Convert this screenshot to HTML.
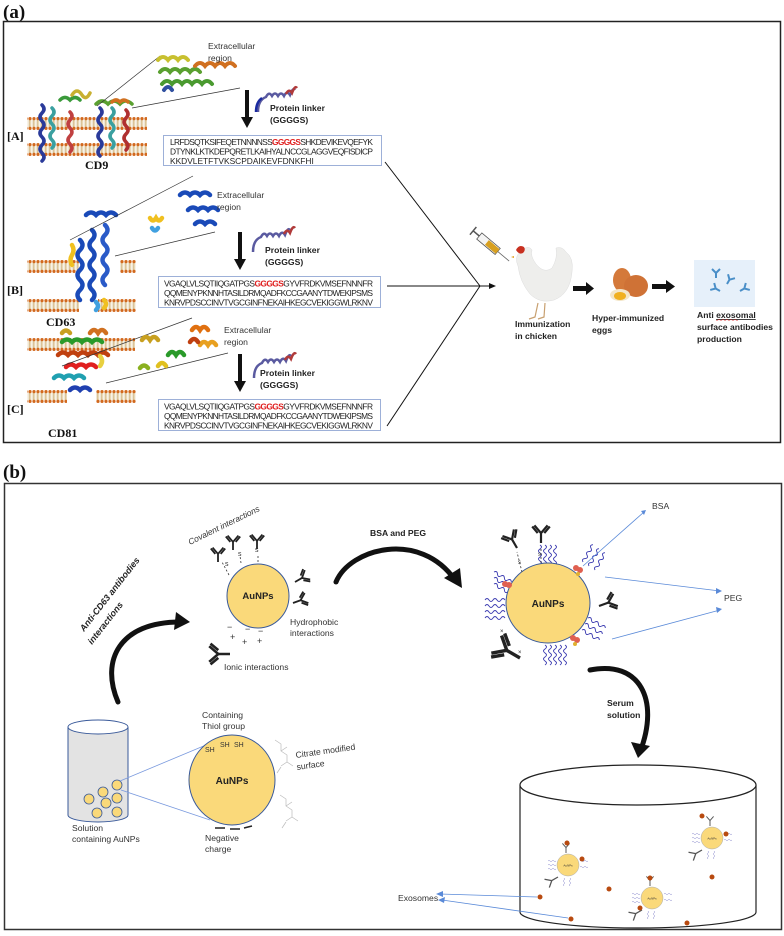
<!DOCTYPE html>
<html><head><meta charset="utf-8"><style>
html,body{margin:0;padding:0;background:#fff}
svg{display:block}
text{font-family:"Liberation Sans",sans-serif}
.sq{font-size:8.4px;fill:#222}
.lbl{font-size:8.6px;fill:#333}
.bl{font-size:8.6px;font-weight:bold;fill:#222}
.ser{font-family:"Liberation Serif",serif;font-weight:bold;fill:#111}
</style></head><body>
<svg width="784" height="936" viewBox="0 0 784 936" xmlns="http://www.w3.org/2000/svg">
<defs>
<pattern id="lip" width="4" height="13" patternUnits="userSpaceOnUse">
<line x1="1.2" y1="2" x2="1.2" y2="11" stroke="#c9a96b" stroke-width="1"/>
<line x1="2.8" y1="2" x2="2.8" y2="11" stroke="#d8bd85" stroke-width="0.8"/>
<circle cx="2" cy="1.6" r="1.6" fill="#d2691e"/>
<circle cx="2" cy="11.4" r="1.6" fill="#d2691e"/>
</pattern>
<g id="ab">
<path d="M0 0 L0 -9 M0 -9 L-6 -16 M0 -9 L6 -16 M-3 -9 L-8 -15 M3 -9 L8 -15" stroke="#222" stroke-width="2" fill="none"/>
</g>
<g id="abg">
<path d="M0 0 L0 -9 M0 -9 L-6 -16 M0 -9 L6 -16" stroke="#555" stroke-width="1.6" fill="none"/>
</g>
<g id="abb">
<path d="M0 0 L0 -5 M0 -5 L-4 -9 M0 -5 L4 -9" stroke="#4a8fc8" stroke-width="2" fill="none"/>
</g>
<path id="wv" d="M0 0 q2 -3 4 0 t4 0 t4 0 t4 0 t4 0" fill="none" stroke="#3a3ab0" stroke-width="0.9"/>
<path id="wvs" d="M0 0 q1 -1.5 2 0 t2 0 t2 0 t2 0" fill="none" stroke="#8888cc" stroke-width="0.5"/>
</defs>

<!-- ================= (a) ================= -->
<text x="3" y="18" class="ser" font-size="19">(a)</text>
<rect x="3.5" y="21.5" width="777" height="421" fill="none" stroke="#222" stroke-width="1.5"/>

<rect x="27" y="117" width="120" height="13" fill="url(#lip)"/>
<rect x="27" y="143" width="120" height="13" fill="url(#lip)"/>
<g fill="none" stroke-width="3.5" stroke-linecap="round">
<path d="M42 105 q4 4 0 8 q-4 4 0 8 q4 4 0 8 q-4 4 0 8 q4 4 0 8 q-4 4 0 8 q4 4 0 8" stroke="#2a3a9a"/>
<path d="M52 108 q4 4 0 8 q-4 4 0 8 q4 4 0 8 q-4 4 0 8 q4 4 0 8" stroke="#3aa0a0"/>
<path d="M70 112 q4 4 0 8 q-4 4 0 8 q4 4 0 8 q-4 4 0 8 q4 4 0 8" stroke="#c04040"/>
<path d="M60 100 q5 -5 10 0 q5 -5 10 0" stroke="#3a9a3a"/>
<path d="M72 95 q5 -8 10 0 q4 6 8 -2" stroke="#c8b030"/>
<path d="M100 108 q4 4 0 8 q-4 4 0 8 q4 4 0 8 q-4 4 0 8 q4 4 0 8 q-4 4 0 8" stroke="#2a3a9a"/>
<path d="M112 108 q4 4 0 8 q-4 4 0 8 q4 4 0 8 q-4 4 0 8 q4 4 0 8" stroke="#3aa0a0"/>
<path d="M126 110 q4 4 0 8 q-4 4 0 8 q4 4 0 8 q-4 4 0 8 q4 4 0 8" stroke="#b03030"/>
<path d="M96 104 q6 -6 12 0 q6 -6 12 0 q6 -6 12 0" stroke="#5aa030"/>
<path d="M112 102 q4 -4 8 0 q4 -4 8 0" stroke="#d07020"/>
</g>
<text x="85" y="169" class="ser" font-size="12">CD9</text>
<text x="7" y="140" class="ser" font-size="12">[A]</text>
<line x1="97" y1="106" x2="160" y2="56" stroke="#333" stroke-width="0.7"/>
<line x1="132" y1="108" x2="240" y2="88" stroke="#333" stroke-width="0.7"/>
<g fill="none" stroke-width="4" stroke-linecap="round">
<path d="M158 60 q5 -6 10 0 q5 -6 10 0 q5 -6 10 0" stroke="#c8c030"/>
<path d="M160 72 q5 -6 10 0 q5 -6 10 0 q5 -6 10 0 q5 -6 10 0" stroke="#5aa030"/>
<path d="M195 66 q5 -6 10 0 q5 -6 10 0 q5 -6 10 0 q5 -6 10 0" stroke="#d07020"/>
<path d="M162 84 q5 -6 10 0 q5 -6 10 0 q5 -6 10 0 q5 -6 10 0 q5 -6 10 0" stroke="#4a9a30"/>
<path d="M164 90 q4 -6 8 0" stroke="#3050a0"/>
</g>
<text x="208" y="49" class="lbl">Extracellular</text>
<text x="208" y="61" class="lbl">region</text>
<rect x="245" y="90" width="4" height="28" fill="#111"/>
<polygon points="241,117 253,117 247,128" fill="#111"/>
<path d="M258 112 q0 -12 8 -15 q3 -6 6 -1 q3 -5 6 0 q3 -5 6 0 q3 -6 6 -1 q3 -8 5 -5" fill="none" stroke="#5a5aa0" stroke-width="2.5"/>
<path d="M256 112 q0 -10 6 -14" stroke="#1a2aa0" stroke-width="2.5" fill="none"/>
<path d="M286 94 q3 -6 6 -1 q3 -8 5 -5" stroke="#b03a3a" stroke-width="2.5" fill="none"/>
<text x="270" y="111" class="bl">Protein linker</text>
<text x="270" y="123" class="bl">(GGGGS)</text>
<rect x="163.5" y="135.5" width="218" height="30" fill="#fff" stroke="#9db0d8" stroke-width="1"/>
<text x="170" y="145" class="sq" textLength="203">LRFDSQTKSIFEQETNNNNSS<tspan fill="#e02020" font-weight="bold">GGGGS</tspan>SHKDEVIKEVQEFYK</text>
<text x="170" y="154.5" class="sq" textLength="203">DTYNKLKTKDEPQRETLKAIHYALNCCGLAGGVEQFISDICP</text>
<text x="170" y="164" class="sq">KKDVLETFTVKSCPDAIKEVFDNKFHI</text>

<!-- B -->
<rect x="27" y="260" width="52" height="13" fill="url(#lip)"/>
<rect x="120" y="260" width="16" height="13" fill="url(#lip)"/>
<rect x="27" y="299" width="52" height="13" fill="url(#lip)"/>
<rect x="98" y="299" width="38" height="13" fill="url(#lip)"/>
<g fill="none" stroke-width="4.5" stroke-linecap="round">
<path d="M80 240 q5 5 0 10 q-5 5 0 10 q5 5 0 10 q-5 5 0 10 q5 5 0 10 q-5 5 0 10" stroke="#1a4ab8"/>
<path d="M92 230 q5 5 0 10 q-5 5 0 10 q5 5 0 10 q-5 5 0 10 q5 5 0 10 q-5 5 0 10 q5 5 0 10" stroke="#1a4ab8"/>
<path d="M105 225 q5 5 0 10 q-5 5 0 10 q5 5 0 10 q-5 5 0 10 q5 5 0 10 q-5 5 0 10" stroke="#2a5ac8"/>
<path d="M86 215 q5 -5 10 0 q5 -5 10 0 q5 -5 10 0" stroke="#1a4ab8"/>
<path d="M72 245 q3 5 0 10 q-3 5 0 10" stroke="#f0c020"/>
<path d="M96 302 q4 4 0 8" stroke="#40a0e0"/>
<path d="M104 300 q4 4 0 8" stroke="#f0c020"/>
</g>
<text x="46" y="326" class="ser" font-size="12">CD63</text>
<text x="7" y="294" class="ser" font-size="12">[B]</text>
<line x1="70" y1="240" x2="193" y2="176" stroke="#333" stroke-width="0.7"/>
<line x1="115" y1="256" x2="215" y2="232" stroke="#333" stroke-width="0.7"/>
<g fill="none" stroke-width="4.5" stroke-linecap="round">
<path d="M180 195 q5 -5 10 0 q5 -5 10 0 q5 -5 10 0" stroke="#1a4ab8"/>
<path d="M188 210 q5 -5 10 0 q5 -5 10 0 q5 -5 10 0" stroke="#1a4ab8"/>
<path d="M195 224 q5 -5 10 0 q5 -5 10 0" stroke="#1a4ab8"/>
<path d="M150 218 q3 5 6 0 q3 5 6 0" stroke="#f0c020"/>
<path d="M152 228 q3 5 6 0" stroke="#40a0e0"/>
</g>
<text x="217" y="198" class="lbl">Extracellular</text>
<text x="217" y="210" class="lbl">region</text>
<rect x="238" y="232" width="4" height="28" fill="#111"/>
<polygon points="234,259 246,259 240,270" fill="#111"/>
<path d="M253 252 q0 -12 8 -15 q3 -6 6 -1 q3 -5 6 0 q3 -5 6 0 q3 -6 6 -1 q3 -8 5 -5" fill="none" stroke="#5a5aa0" stroke-width="2.5"/>
<path d="M284 234 q3 -6 6 -1 q3 -8 5 -5" stroke="#b03a3a" stroke-width="2.5" fill="none"/>
<text x="265" y="253" class="bl">Protein linker</text>
<text x="265" y="265" class="bl">(GGGGS)</text>
<rect x="158.5" y="276.5" width="222" height="31" fill="#fff" stroke="#9db0d8" stroke-width="1"/>
<text x="164" y="286.5" class="sq" textLength="209">VGAQLVLSQTIIQGATPGS<tspan fill="#e02020" font-weight="bold">GGGGS</tspan>GYVFRDKVMSEFNNNFR</text>
<text x="164" y="296" class="sq" textLength="209">QQMENYPKNNHTASILDRMQADFKCCGAANYTDWEKIPSMS</text>
<text x="164" y="305.5" class="sq" textLength="209">KNRVPDSCCINVTVGCGINFNEKAIHKEGCVEKIGGWLRKNV</text>

<!-- C -->
<rect x="27" y="338" width="108" height="13" fill="url(#lip)"/>
<rect x="27" y="390" width="40" height="13" fill="url(#lip)"/>
<rect x="96" y="390" width="40" height="13" fill="url(#lip)"/>
<g fill="none" stroke-width="4.5" stroke-linecap="round">
<path d="M62 342 q5 -5 10 0 q5 -5 10 0 q5 -5 10 0 q5 -5 10 0" stroke="#2a9a2a"/>
<path d="M58 355 q5 -5 10 0 q5 -5 10 0 q5 -5 10 0 q5 -5 10 0 q5 -5 10 0" stroke="#c04010"/>
<path d="M66 367 q5 -5 10 0 q5 -5 10 0 q5 -5 10 0" stroke="#e02020"/>
<path d="M54 378 q5 -5 10 0 q5 -5 10 0 q5 -5 10 0" stroke="#20a0b0"/>
<path d="M70 390 q5 -5 10 0 q5 -5 10 0" stroke="#2040b0"/>
<path d="M62 333 q4 -5 8 0" stroke="#c8a020"/>
<path d="M90 333 q4 -6 8 0 q4 -6 8 0" stroke="#d07020"/>
<path d="M100 356 q4 5 0 10" stroke="#e8d040"/>
</g>
<text x="48" y="437" class="ser" font-size="12">CD81</text>
<text x="7" y="413" class="ser" font-size="12">[C]</text>
<line x1="62" y1="366" x2="192" y2="318" stroke="#333" stroke-width="0.7"/>
<line x1="106" y1="383" x2="228" y2="353" stroke="#333" stroke-width="0.7"/>
<g fill="none" stroke-width="4.5" stroke-linecap="round">
<path d="M142 340 q4 -6 8 0 q4 -6 8 0" stroke="#c8a020"/>
<path d="M140 368 q4 -5 8 0" stroke="#8ab020"/>
<path d="M168 355 q4 -6 8 0 q4 -6 8 0" stroke="#2a9a2a"/>
<path d="M158 366 q4 -6 8 0" stroke="#e0c020"/>
<path d="M192 330 q4 -6 8 0 q4 -6 8 0" stroke="#e07010"/>
<path d="M200 345 q4 -6 8 0 q4 -6 8 0" stroke="#e8a020"/>
<path d="M190 342 q4 -6 8 0" stroke="#c04010"/>
</g>
<text x="224" y="333" class="lbl">Extracellular</text>
<text x="224" y="345" class="lbl">region</text>
<rect x="238" y="354" width="4" height="28" fill="#111"/>
<polygon points="234,381 246,381 240,392" fill="#111"/>
<path d="M254 378 q0 -12 8 -15 q3 -6 6 -1 q3 -5 6 0 q3 -5 6 0 q3 -6 6 -1 q3 -8 5 -5" fill="none" stroke="#5a5aa0" stroke-width="2.5"/>
<path d="M285 360 q3 -6 6 -1 q3 -8 5 -5" stroke="#b03a3a" stroke-width="2.5" fill="none"/>
<text x="260" y="376" class="bl">Protein linker</text>
<text x="260" y="388" class="bl">(GGGGS)</text>
<rect x="158.5" y="399.5" width="222" height="31" fill="#fff" stroke="#9db0d8" stroke-width="1"/>
<text x="164" y="409.5" class="sq" textLength="209">VGAQLVLSQTIIQGATPGS<tspan fill="#e02020" font-weight="bold">GGGGS</tspan>GYVFRDKVMSEFNNNFR</text>
<text x="164" y="419" class="sq" textLength="209">QQMENYPKNNHTASILDRMQADFKCCGAANYTDWEKIPSMS</text>
<text x="164" y="428.5" class="sq" textLength="209">KNRVPDSCCINVTVGCGINFNEKAIHKEGCVEKIGGWLRKNV</text>

<line x1="385" y1="162" x2="480" y2="286" stroke="#111" stroke-width="1"/>
<line x1="387" y1="286" x2="490" y2="286" stroke="#111" stroke-width="1"/>
<line x1="387" y1="426" x2="480" y2="286" stroke="#111" stroke-width="1"/>
<polygon points="489,283 496,286 489,289" fill="#111"/>

<g transform="translate(490,245) rotate(40)">
<rect x="-14" y="-4" width="24" height="8" fill="#f4f4f4" stroke="#555" stroke-width="0.8"/>
<rect x="-4" y="-3" width="14" height="6" fill="#d8a020"/>
<line x1="-14" y1="0" x2="-22" y2="0" stroke="#555" stroke-width="1.5"/>
<line x1="-22" y1="-5" x2="-22" y2="5" stroke="#555" stroke-width="1.5"/>
<line x1="10" y1="0" x2="25" y2="0" stroke="#666" stroke-width="0.8"/>
</g>
<path d="M520 252 q-6 5 -2 14 q2 16 12 28 q10 10 24 6 q16 -6 18 -28 q2 -14 -6 -20 q-4 -6 -10 -4 q2 10 -4 20 q-8 6 -16 -4 q-6 -8 -4 -14 q-4 -6 -12 2z" fill="#eeeeec" stroke="#ddd" stroke-width="0.5"/>
<path d="M516 250 q3 -6 8 -3 q2 3 -1 6 q-4 2 -7 -3z" fill="#c83020"/>
<path d="M514 256 l-3 1 l3 1z" fill="#e0a020"/>
<path d="M538 303 l-3 14 l-6 2 M545 303 l-1 14 l-6 2" stroke="#c8a070" stroke-width="1.2" fill="none"/>
<text x="515" y="327" class="bl">Immunization</text>
<text x="515" y="339" class="bl">in chicken</text>
<rect x="573" y="286" width="14" height="5" fill="#111"/>
<polygon points="586,282 594,288.5 586,295" fill="#111"/>
<ellipse cx="622" cy="280" rx="9" ry="12" fill="#d4793a"/>
<ellipse cx="636" cy="286" rx="12" ry="11" fill="#cf7236"/>
<ellipse cx="620" cy="295" rx="10" ry="6" fill="#f3e6c8"/>
<ellipse cx="620" cy="296" rx="6" ry="4" fill="#f0b020"/>
<text x="592" y="321" class="bl">Hyper-immunized</text>
<text x="592" y="333" class="bl">eggs</text>
<rect x="652" y="284" width="15" height="5" fill="#111"/>
<polygon points="666,280 675,286.5 666,293" fill="#111"/>
<rect x="694" y="260" width="61" height="47" fill="#e6f0fa"/>
<use href="#abb" transform="translate(716,278)"/>
<use href="#abb" transform="translate(727,284) rotate(30)"/>
<use href="#abb" transform="translate(720,291) rotate(-60)"/>
<use href="#abb" transform="translate(740,291) rotate(60)"/>
<text x="697" y="318" class="bl">Anti <tspan text-decoration="underline">exosomal</tspan></text>
<path d="M716 320 q1 1 2 0 t2 0 t2 0 t2 0 t2 0 t2 0 t2 0 t2 0 t2 0 t2 0 t2 0" stroke="#e03030" stroke-width="0.5" fill="none"/>
<text x="697" y="330" class="bl">surface  antibodies</text>
<text x="697" y="342" class="bl">production</text>

<!-- ================= (b) ================= -->
<text x="3" y="478" class="ser" font-size="19">(b)</text>
<rect x="4.5" y="483.5" width="777" height="446" fill="none" stroke="#333" stroke-width="1.5"/>

<path d="M118 702 C100 660 120 622 180 622" fill="none" stroke="#111" stroke-width="5" stroke-linecap="round"/>
<polygon points="176,612 190,622 174,630" fill="#111"/>
<text transform="translate(84,632) rotate(-52)" font-size="9" font-weight="bold" font-style="italic" fill="#222">Anti-CD63 antibodies</text>
<text transform="translate(92,645) rotate(-52)" font-size="9" font-weight="bold" font-style="italic" fill="#222">interactions</text>

<ellipse cx="258" cy="596" rx="31" ry="32" fill="#fad97a" stroke="#3a5a9a" stroke-width="1"/>
<text x="258" y="599" text-anchor="middle" font-size="9.5" font-weight="bold" fill="#222">AuNPs</text>
<g stroke="#333" stroke-width="0.8" stroke-dasharray="2,2">
<line x1="229" y1="575" x2="222" y2="562"/><line x1="241" y1="563" x2="240" y2="556"/><line x1="258" y1="562" x2="258" y2="555"/>
</g>
<use href="#ab" transform="translate(218,562) scale(0.9)"/>
<use href="#ab" transform="translate(233,550) scale(0.9)"/>
<use href="#ab" transform="translate(257,549) scale(0.9)"/>
<use href="#ab" transform="translate(295,582) rotate(60) scale(0.9)"/>
<use href="#ab" transform="translate(293,603) rotate(70) scale(0.9)"/>
<use href="#ab" transform="translate(230,654) rotate(-90) scale(1.3)"/>
<text font-size="7" fill="#333"><tspan x="225" y="566">s</tspan><tspan x="238" y="556">s</tspan><tspan x="255" y="552">s</tspan></text>
<text font-size="9" fill="#333"><tspan x="227" y="630">−</tspan><tspan x="245" y="632">−</tspan><tspan x="258" y="634">−</tspan><tspan x="230" y="640">+</tspan><tspan x="242" y="645">+</tspan><tspan x="257" y="644">+</tspan></text>
<text transform="translate(190,545) rotate(-26)" font-size="8.4" font-style="italic" fill="#333">Covalent interactions</text>
<text x="290" y="625" class="lbl">Hydrophobic</text>
<text x="290" y="636" class="lbl">interactions</text>
<text x="224" y="670" class="lbl">Ionic interactions</text>

<path d="M336 582 C350 548 420 530 455 580" fill="none" stroke="#111" stroke-width="5" stroke-linecap="round"/>
<polygon points="444,578 462,588 460,568" fill="#111"/>
<text x="370" y="536" class="bl">BSA and PEG</text>

<g>
<use href="#wv" transform="translate(485,606)"/><use href="#wv" transform="translate(485,612)"/><use href="#wv" transform="translate(485,618)"/><use href="#wv" transform="translate(485,600)"/>
<use href="#wv" transform="translate(494,572) rotate(30)"/><use href="#wv" transform="translate(494,578) rotate(30)"/><use href="#wv" transform="translate(494,584) rotate(30)"/>
<use href="#wv" transform="translate(540,545) rotate(90)"/><use href="#wv" transform="translate(545,545) rotate(90)"/><use href="#wv" transform="translate(550,545) rotate(90)"/><use href="#wv" transform="translate(555,545) rotate(90)"/>
<use href="#wv" transform="translate(583,562) rotate(-60)"/><use href="#wv" transform="translate(589,566) rotate(-60)"/><use href="#wv" transform="translate(595,570) rotate(-60)"/>
<use href="#wv" transform="translate(582,630) rotate(30)"/><use href="#wv" transform="translate(585,624) rotate(30)"/><use href="#wv" transform="translate(588,618) rotate(30)"/>
<use href="#wv" transform="translate(545,645) rotate(90)"/><use href="#wv" transform="translate(550,645) rotate(90)"/><use href="#wv" transform="translate(555,645) rotate(90)"/><use href="#wv" transform="translate(560,645) rotate(90)"/><use href="#wv" transform="translate(565,645) rotate(90)"/>
</g>
<ellipse cx="548" cy="603" rx="42" ry="40" fill="#fad97a" stroke="#3a5a9a" stroke-width="1"/>
<text x="548" y="607" text-anchor="middle" font-size="10" font-weight="bold" fill="#222">AuNPs</text>
<use href="#ab" transform="translate(517,548) rotate(-30) scale(1.1)"/>
<use href="#ab" transform="translate(541,543) scale(1.1)"/>
<use href="#ab" transform="translate(599,606) rotate(70) scale(1.1)"/>
<use href="#ab" transform="translate(520,658) rotate(-60) scale(1.7)"/>
<g stroke="#333" stroke-width="0.8" stroke-dasharray="2,2"><line x1="522" y1="572" x2="517" y2="552"/><line x1="541" y1="563" x2="541" y2="547"/></g>
<text font-size="6" fill="#333"><tspan x="518" y="564">s</tspan><tspan x="538" y="556">s</tspan><tspan x="500" y="633">×</tspan><tspan x="507" y="645">×</tspan><tspan x="518" y="654">×</tspan></text>
<g fill="#e06050"><circle cx="576" cy="568" r="3"/><circle cx="580" cy="570" r="3"/><circle cx="505" cy="584" r="3"/><circle cx="509" cy="585" r="3"/><circle cx="573" cy="638" r="3"/><circle cx="577" cy="640" r="3"/></g>
<g fill="#e0b030"><circle cx="578" cy="574" r="2"/><circle cx="575" cy="644" r="2"/></g>
<g stroke="#5a8ad8" stroke-width="0.8" fill="none">
<line x1="583" y1="566" x2="644" y2="512"/><line x1="605" y1="577" x2="720" y2="591"/><line x1="612" y1="639" x2="720" y2="610"/>
</g>
<g fill="#5a8ad8"><polygon points="646,510 641,511 644,515"/><polygon points="722,591 716,588 716,594"/><polygon points="722,609 716,607 717,613"/></g>
<text x="652" y="509" class="lbl">BSA</text>
<text x="724" y="601" class="lbl">PEG</text>

<path d="M590 670 C640 660 660 700 640 752" fill="none" stroke="#111" stroke-width="5" stroke-linecap="round"/>
<polygon points="631,742 638,758 650,746" fill="#111"/>
<text x="607" y="706" class="bl">Serum</text>
<text x="607" y="718" class="bl">solution</text>

<path d="M68 727 L68 815 A30 7 0 0 0 128 815 L128 727" fill="#e3e3e3" stroke="#3a5a9a" stroke-width="1"/>
<ellipse cx="98" cy="727" rx="30" ry="7" fill="#fff" stroke="#3a5a9a" stroke-width="1"/>
<g fill="#fad97a" stroke="#3a5a9a" stroke-width="0.8">
<circle cx="117" cy="785" r="5"/><circle cx="103" cy="792" r="5"/><circle cx="89" cy="799" r="5"/><circle cx="106" cy="803" r="5"/><circle cx="117" cy="798" r="5"/><circle cx="97" cy="813" r="5"/><circle cx="117" cy="812" r="5"/>
</g>
<g stroke="#7a9ade" stroke-width="0.8"><line x1="120" y1="781" x2="206" y2="745"/><line x1="121" y1="790" x2="210" y2="820"/></g>
<text x="72" y="831" class="lbl">Solution</text>
<text x="72" y="842" class="lbl">containing AuNPs</text>

<ellipse cx="232" cy="780" rx="43" ry="45" fill="#fad97a" stroke="#3a5a9a" stroke-width="1"/>
<text x="232" y="784" text-anchor="middle" font-size="10" font-weight="bold" fill="#222">AuNPs</text>
<text font-size="7" fill="#333"><tspan x="205" y="752">SH</tspan><tspan x="220" y="747">SH</tspan><tspan x="234" y="747">SH</tspan></text>
<text x="202" y="718" class="lbl">Containing</text>
<text x="202" y="729" class="lbl">Thiol group</text>
<path d="M215 828 L225 828 M230 829 L240 829 M244 828 L252 826" stroke="#222" stroke-width="1.5"/>
<text x="205" y="841" class="lbl">Negative</text>
<text x="205" y="852" class="lbl">charge</text>
<g stroke="#bbb" stroke-width="0.7" fill="none">
<path d="M275 740 l6 4 l0 7 l6 4 l0 7 l-6 4 M281 751 l6 -4 M287 762 l6 4 M281 767 l-4 6"/>
<path d="M280 795 l6 4 l0 7 l6 4 l0 7 l-6 4 M286 806 l6 -4 M292 817 l6 4 M286 822 l-4 6"/>
</g>
<text transform="translate(296,758) rotate(-8)" class="lbl">Citrate modified</text>
<text transform="translate(297,770) rotate(-8)" class="lbl">surface</text>

<path d="M520 785 L520 912 A118 16 0 0 0 756 912 L756 785" fill="#fff" stroke="#222" stroke-width="1.2"/>
<ellipse cx="638" cy="785" rx="118" ry="20" fill="#fff" stroke="#222" stroke-width="1.2"/>
<g>
<g transform="translate(568,865)">
<use href="#wvs" transform="translate(-20,-4)"/><use href="#wvs" transform="translate(-20,0)"/><use href="#wvs" transform="translate(-20,4)"/><use href="#wvs" transform="translate(12,-4)"/><use href="#wvs" transform="translate(12,2)"/><use href="#wvs" transform="translate(-4,13) rotate(90)"/><use href="#wvs" transform="translate(2,13) rotate(90)"/>
<circle r="11" fill="#fad97a" stroke="#aaa" stroke-width="0.5"/><text y="1.5" text-anchor="middle" font-size="3" fill="#333">AuNPs</text>
<use href="#abg" transform="translate(-2,-12) scale(0.6)"/><use href="#abg" transform="translate(-10,12) rotate(-120) scale(0.8)"/>
<circle cx="-1" cy="-22" r="2.5" fill="#b84a10"/><circle cx="14" cy="-6" r="2.5" fill="#b84a10"/>
</g>
<g transform="translate(712,838)">
<use href="#wvs" transform="translate(-20,-4)"/><use href="#wvs" transform="translate(-20,0)"/><use href="#wvs" transform="translate(-20,4)"/><use href="#wvs" transform="translate(12,-4)"/><use href="#wvs" transform="translate(12,2)"/><use href="#wvs" transform="translate(-4,13) rotate(90)"/><use href="#wvs" transform="translate(2,13) rotate(90)"/>
<circle r="11" fill="#fad97a" stroke="#aaa" stroke-width="0.5"/><text y="1.5" text-anchor="middle" font-size="3" fill="#333">AuNPs</text>
<use href="#abg" transform="translate(-2,-12) scale(0.6)"/><use href="#abg" transform="translate(-10,12) rotate(-120) scale(0.8)"/>
<circle cx="-10" cy="-22" r="2.5" fill="#b84a10"/><circle cx="14" cy="-4" r="2.5" fill="#b84a10"/>
</g>
<g transform="translate(652,898)">
<use href="#wvs" transform="translate(-20,-4)"/><use href="#wvs" transform="translate(-20,0)"/><use href="#wvs" transform="translate(-20,4)"/><use href="#wvs" transform="translate(12,-4)"/><use href="#wvs" transform="translate(12,2)"/><use href="#wvs" transform="translate(-4,13) rotate(90)"/><use href="#wvs" transform="translate(2,13) rotate(90)"/>
<circle r="11" fill="#fad97a" stroke="#aaa" stroke-width="0.5"/><text y="1.5" text-anchor="middle" font-size="3" fill="#333">AuNPs</text>
<use href="#abg" transform="translate(-2,-12) scale(0.6)"/><use href="#abg" transform="translate(-10,12) rotate(-120) scale(0.8)"/>
<circle cx="-2" cy="-20" r="2.5" fill="#b84a10"/><circle cx="-12" cy="10" r="2.5" fill="#b84a10"/>
</g>
</g>
<g fill="#b84a10"><circle cx="540" cy="897" r="2.5"/><circle cx="609" cy="889" r="2.5"/><circle cx="571" cy="919" r="2.5"/><circle cx="687" cy="923" r="2.5"/><circle cx="712" cy="877" r="2.5"/></g>
<g stroke="#5a8ad8" stroke-width="0.8"><line x1="537" y1="897" x2="440" y2="894"/><line x1="568" y1="918" x2="442" y2="900"/></g>
<g fill="#5a8ad8"><polygon points="436,894 443,891 443,897"/><polygon points="438,900 445,897 444,903"/></g>
<text x="398" y="901" class="lbl">Exosomes</text>
</svg>
</body></html>
